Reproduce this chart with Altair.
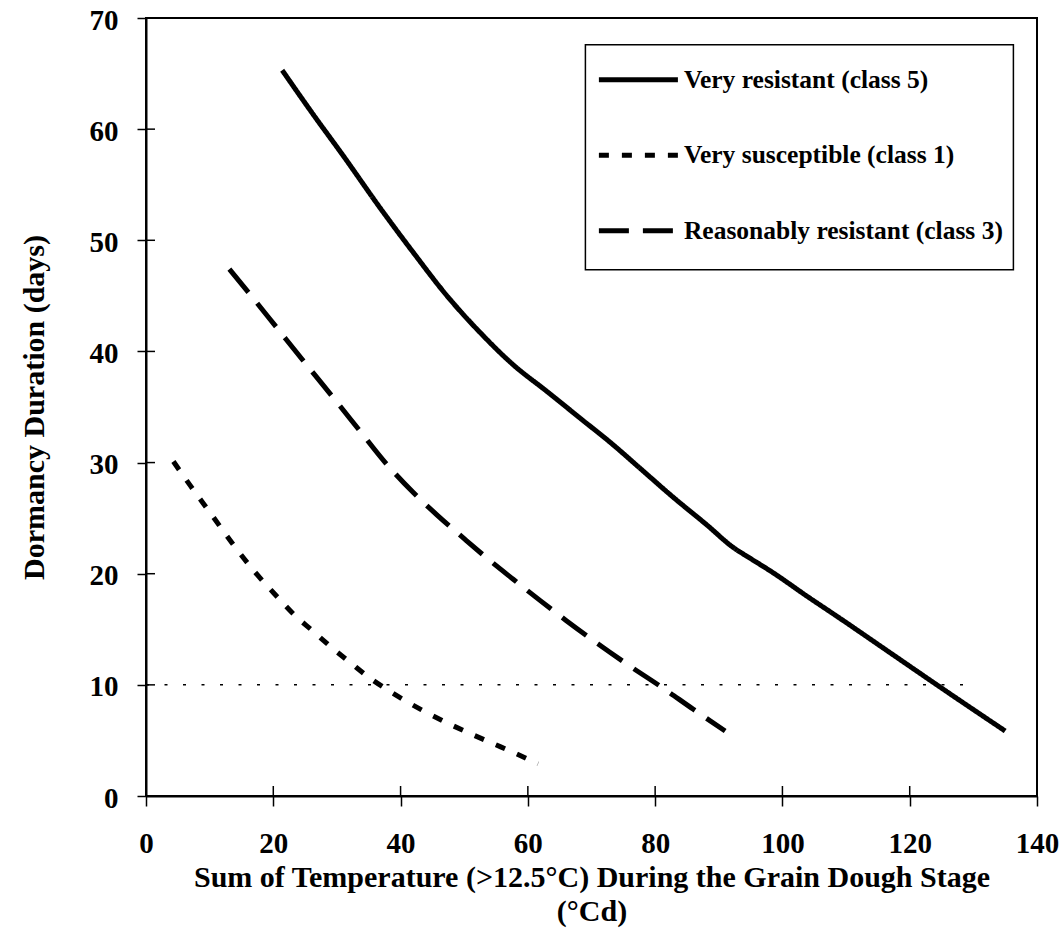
import altair as alt
import pandas as pd

# ---- data ----
series_names = ["Very resistant (class 5)", "Very susceptible (class 1)", "Reasonably resistant (class 3)"]

resistant_x = [21.4, 26.3, 31.0, 36.8, 42.0, 47.3, 52.5, 57.7, 63.0, 68.2, 73.4, 77.6, 82.8, 88.1, 92.3, 94.9, 98.5, 103.8, 109.0, 117.4, 125.8, 135.0]
resistant_y = [65.3, 61.3, 57.6, 52.9, 48.9, 45.0, 41.7, 38.8, 36.4, 34.0, 31.6, 29.5, 26.9, 24.4, 22.35, 21.4, 20.1, 18.0, 16.0, 12.7, 9.4, 5.85]

susceptible_x = [4.3, 7.0, 9.3, 11.7, 14.0, 17.2, 20.5, 23.3, 26.1, 29.5, 32.1, 35.2, 37.8, 40.5, 43.3, 46.7, 50.4, 54.6, 58.0, 61.6]
susceptible_y = [30.1, 27.9, 26.1, 24.2, 22.4, 20.1, 18.0, 16.3, 14.9, 13.2, 12.0, 10.6, 9.6, 8.65, 7.75, 6.75, 5.75, 4.7, 3.85, 2.9]

reasonable_x = [13.1, 16.4, 20.6, 24.8, 29.2, 33.4, 37.6, 42.0, 45.7, 49.9, 54.0, 57.7, 61.9, 66.0, 71.0, 76.0, 81.0, 86.0, 91.0]
reasonable_y = [47.4, 45.1, 42.1, 39.1, 36.0, 33.0, 30.0, 27.3, 25.3, 23.2, 21.2, 19.5, 17.6, 15.8, 13.7, 11.7, 9.8, 7.8, 5.85]

threshold_y = [10]
threshold_x_start = [0]
threshold_x_end = [129]

x_ticks = [0, 20, 40, 60, 80, 100, 120, 140]
y_ticks = [0, 10, 20, 30, 40, 50, 60, 70]

x_title = ["Sum of Temperature (>12.5°C) During the Grain Dough Stage", "(°Cd)"]
y_title = "Dormancy Duration (days)"

# ---- tables ----
rows = []
for name, xs, ys in zip(series_names,
                        [resistant_x, susceptible_x, reasonable_x],
                        [resistant_y, susceptible_y, reasonable_y]):
    for i, (xv, yv) in enumerate(zip(xs, ys)):
        rows.append({"series": name, "x": xv, "y": yv, "order": i})
df = pd.DataFrame(rows)

thr = pd.DataFrame({"x": threshold_x_start, "x2": threshold_x_end, "y": threshold_y})
xt = pd.DataFrame({"x": x_ticks})
yt = pd.DataFrame({"y": y_ticks})

W, H = 891, 778
FONT = "Liberation Serif"

xscale = alt.Scale(domain=[0, 140], nice=False, zero=False)
yscale = alt.Scale(domain=[0, 70], nice=False, zero=False)

x_axis = alt.Axis(values=x_ticks, title=x_title, grid=False, domainColor="black", domainWidth=2,
                  tickColor="black", tickWidth=1.5, tickSize=10, labelFont=FONT, labelFontSize=29,
                  labelFontWeight="bold", labelColor="black", labelPadding=23, labelFlush=False,
                  labelOverlap=False, titleFont=FONT, titleFontSize=30, titleFontWeight="bold",
                  titleColor="black", titleY=90, titleBaseline="alphabetic", titleLineHeight=34)
y_axis = alt.Axis(values=y_ticks, title=y_title, grid=False, domainColor="black", domainWidth=2,
                  tickColor="black", tickWidth=1.5, tickSize=9, labelFont=FONT, labelFontSize=29,
                  labelFontWeight="bold", labelColor="black", labelPadding=19, labelOffset=2,
                  labelOverlap=False, titleFont=FONT, titleFontSize=30, titleFontWeight="bold",
                  titleColor="black", titleX=-97, titleY=H / 2, titleAngle=270, titleAlign="center",
                  titleBaseline="bottom")


def xe(field):
    return alt.X(f"{field}:Q", scale=xscale, axis=x_axis)


def ye(field):
    return alt.Y(f"{field}:Q", scale=yscale, axis=y_axis)


dash_scale = alt.Scale(domain=series_names, range=[[1, 0], [10, 13], [30, 14]])

legend = alt.Legend(title=None, orient="none", legendX=439.4, legendY=26.7, padding=10,
                    strokeColor="black", fillColor="white",
                    symbolType="M-0.956,-0.822M-0.956,0.822M-0.956,0H2.556", symbolSize=2025,
                    symbolStrokeWidth=5, symbolStrokeColor="black",
                    labelFont=FONT, labelFontSize=25.5, labelFontWeight="bold", labelColor="black",
                    labelOffset=38.5, rowPadding=17.5, labelLimit=600, labelBaseline="middle")

lines = alt.Chart(df).mark_line(color="black", strokeWidth=5, strokeCap="butt", interpolate="monotone").encode(
    x=xe("x"),
    y=ye("y"),
    strokeDash=alt.StrokeDash("series:N", scale=dash_scale, legend=legend),
    order="order:Q",
)

threshold = alt.Chart(thr).mark_rule(color="black", strokeWidth=1.5, strokeDash=[3, 15.5]).encode(
    x=xe("x"), x2="x2:Q", y=ye("y")
)

inner_y_ticks = alt.Chart(yt).mark_rule(color="black", strokeWidth=1.5).encode(
    y=ye("y"), x=alt.value(0), x2=alt.value(9)
)
inner_x_ticks = alt.Chart(xt).mark_rule(color="black", strokeWidth=1.5).encode(
    x=xe("x"), y=alt.value(H - 10), y2=alt.value(H)
)

chart = alt.layer(threshold, inner_y_ticks, inner_x_ticks, lines).properties(
    width=W, height=H,
    padding={"left": 146, "top": 18, "right": 26, "bottom": 137},
    autosize=alt.AutoSizeParams(type="none"),
    background="white",
).configure_view(stroke="black", strokeWidth=2).configure_legend(strokeWidth=1.5)

chart.save("out.html", embed_options={"renderer": "svg", "actions": False})
